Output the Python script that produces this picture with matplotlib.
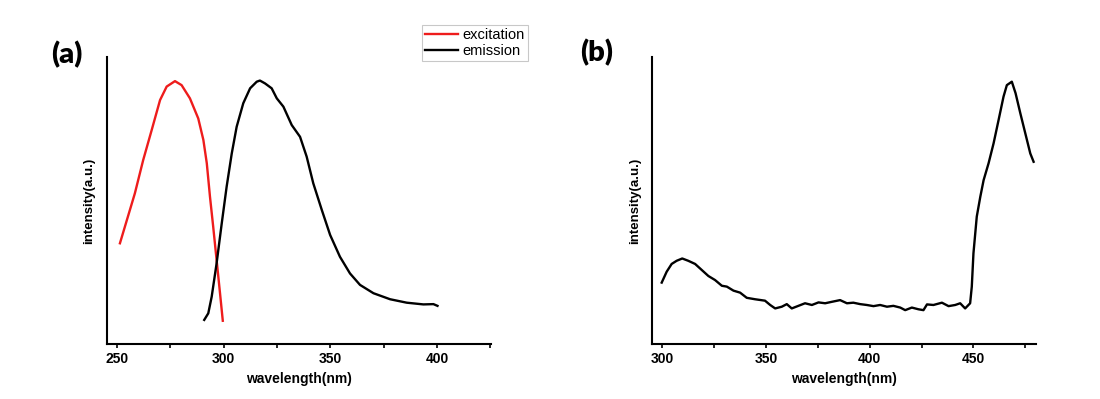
import matplotlib
matplotlib.use("Agg")
import matplotlib.pyplot as plt
from matplotlib.ticker import MultipleLocator

# ---------------- data ----------------
exc_wl = [251.4, 258.4, 262.3, 266.3, 270.2, 273.3, 277.2, 280.3, 284.2, 288.1,
          290.5, 292.1, 293.6, 295.1, 296.7, 298.3, 299.6]
exc_int = [0.351, 0.525, 0.641, 0.746, 0.850, 0.897, 0.916, 0.902, 0.856, 0.786,
           0.711, 0.630, 0.513, 0.409, 0.293, 0.177, 0.081]

emi_wl = [290.9, 292.8, 294.4, 296.7, 299.1, 301.4, 303.8, 306.1, 309.2, 312.4,
          315.5, 317.0, 319.4, 322.5, 324.9, 328.0, 331.9, 335.8, 338.9, 342.0,
          346.0, 349.9, 354.5, 359.2, 363.9, 370.2, 378.0, 385.8, 393.6, 398.3, 400.2]
emi_int = [0.084, 0.107, 0.165, 0.281, 0.420, 0.548, 0.664, 0.757, 0.839, 0.891,
           0.914, 0.918, 0.908, 0.891, 0.856, 0.827, 0.763, 0.722, 0.653, 0.560,
           0.467, 0.380, 0.304, 0.246, 0.206, 0.177, 0.156, 0.144, 0.138, 0.139, 0.133]

b_wl = [299.7, 302.1, 304.5, 306.9, 309.6, 312.5, 315.8, 319.0, 322.2, 325.4,
        328.7, 331.1, 334.3, 337.5, 340.7, 344.7, 349.5, 352.0, 354.4, 357.6,
        360.0, 362.4, 365.6, 368.8, 372.1, 375.3, 378.5, 381.7, 385.7, 389.0,
        392.1, 395.4, 398.6, 401.8, 405.0, 408.3, 411.4, 414.7, 417.1, 420.3,
        423.5, 425.9, 427.6, 430.7, 434.8, 438.0, 441.2, 443.6, 446.0, 447.6,
        448.4, 449.2, 450.0, 451.6, 453.3, 454.9, 457.3, 459.7, 462.1, 464.5,
        466.1, 468.5, 470.3, 472.6, 475.0, 477.4, 479.0]
b_int = [0.214, 0.252, 0.279, 0.290, 0.298, 0.290, 0.279, 0.258, 0.237, 0.223,
         0.203, 0.200, 0.186, 0.179, 0.161, 0.156, 0.151, 0.136, 0.124, 0.130,
         0.139, 0.124, 0.133, 0.142, 0.136, 0.145, 0.142, 0.147, 0.153, 0.142,
         0.144, 0.139, 0.136, 0.132, 0.136, 0.130, 0.133, 0.127, 0.118, 0.127,
         0.121, 0.118, 0.138, 0.136, 0.144, 0.132, 0.136, 0.142, 0.124, 0.136,
         0.142, 0.200, 0.316, 0.444, 0.513, 0.571, 0.630, 0.699, 0.780, 0.862,
         0.902, 0.914, 0.874, 0.804, 0.734, 0.664, 0.635]

a_xticks = [250, 300, 350, 400]
b_xticks = [300, 350, 400, 450]
xlabel = "wavelength(nm)"
ylabel = "intensity(a.u.)"
legend_labels = ["excitation", "emission"]

# ---------------- figure ----------------
plt.rcParams['font.family'] = ['Liberation Sans', 'DejaVu Sans']

fig = plt.figure(figsize=(11, 3.99), dpi=100)
ax_a = fig.add_axes([0.097, 0.1378, 0.3494, 0.7193])
ax_b = fig.add_axes([0.5925, 0.1378, 0.3494, 0.7193])

la, = ax_a.plot(exc_wl, exc_int, color='#ee1c1c', lw=1.7, solid_joinstyle='round')
lb, = ax_a.plot(emi_wl, emi_int, color='black', lw=1.7, solid_joinstyle='round')
ax_b.plot(b_wl, b_int, color='black', lw=1.7, solid_joinstyle='round')

def style(ax, xlim, ticks):
    ax.set_xlim(*xlim)
    ax.set_ylim(0, 1)
    ax.set_xticks(ticks)
    ax.xaxis.set_minor_locator(MultipleLocator(25))
    ax.set_yticks([])
    for s in ['top', 'right']:
        ax.spines[s].set_visible(False)
    for s in ['left', 'bottom']:
        ax.spines[s].set_linewidth(1.5)
    ax.tick_params(axis='x', which='both', direction='out', length=3, width=1.2, pad=3)
    for lab in ax.get_xticklabels():
        lab.set_fontweight('bold')
        lab.set_fontsize(10)
    ax.set_xlabel(xlabel, fontsize=10, fontweight='bold', labelpad=4)
    ax.set_ylabel(ylabel, fontsize=9.5, fontweight='bold', labelpad=8)

style(ax_a, (245.2, 425.3), a_xticks)
style(ax_b, (294.9, 480.2), b_xticks)

fig.text(0.061, 0.862, "(a)", fontsize=21, fontweight='heavy', family=['Lato', 'DejaVu Sans'],
         ha='center', va='center')
fig.text(0.542, 0.868, "(b)", fontsize=21, fontweight='heavy', family=['Lato', 'DejaVu Sans'],
         ha='center', va='center')

leg = fig.legend([la, lb], legend_labels, loc='upper right',
                 bbox_to_anchor=(0.48, 0.937), fontsize=10.5, frameon=True,
                 fancybox=False, handlelength=2.3, handletextpad=0.3,
                 labelspacing=0.15, borderpad=0.2, borderaxespad=0)
leg.get_frame().set_edgecolor('#bbbbbb')
leg.get_frame().set_linewidth(0.8)

fig.savefig("out.png", dpi=100)
